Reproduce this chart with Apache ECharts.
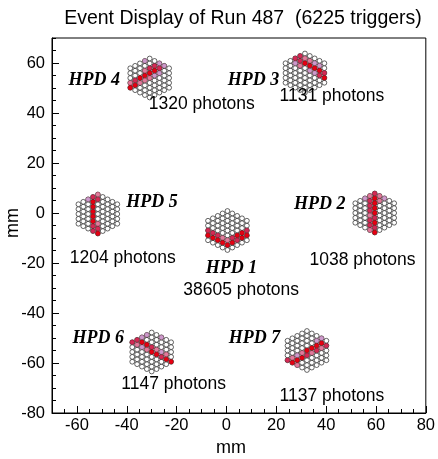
<!DOCTYPE html>
<html><head><meta charset="utf-8">
<script src="https://cdn.jsdelivr.net/npm/echarts@6/dist/echarts.min.js"></script>
<style>html,body{margin:0;padding:0;background:#fff}#c{width:438px;height:459px}</style>
</head><body><div id="c"></div>
<script>
const chartTitle = 'Event Display of Run 487  (6225 triggers)';
const xTitle = 'mm';
const yTitle = 'mm';
const hpdNames = ['HPD 1','HPD 2','HPD 3','HPD 4','HPD 5','HPD 6','HPD 7'];
const photons = [38605, 1038, 1131, 1320, 1204, 1147, 1137];
const centerX = [0.4, 59.5, 31.5, -30.8, -51.6, -30.0, 32.3];
const centerY = [-7.0, 0.0, 56.0, 54.0, -0.4, -55.6, -55.0];
const nameX = [2.0, 37.4, 10.9, -53.0, -29.9, -51.4, 11.3];
const nameY = [-22.0, 3.6, 53.2, 53.2, 4.4, -50.0, -50.0];
const countX = [5.9, 54.6, 42.3, -9.9, -41.6, -21.2, 42.3];
const countY = [-30.8, -18.8, 46.6, 43.4, -18.0, -68.4, -73.2];
const xTickValues = [-60, -40, -20, 0, 20, 40, 60, 80];
const yTickValues = [-80, -60, -40, -20, 0, 20, 40, 60];
const xMinorValues = [-70,-65,-60,-55,-50,-45,-40,-35,-30,-25,-20,-15,-10,-5,0,5,10,15,20,25,30,35,40,45,50,55,60,65,70,75,80];
const yMinorValues = [-80,-75,-70,-65,-60,-55,-50,-45,-40,-35,-30,-25,-20,-15,-10,-5,0,5,10,15,20,25,30,35,40,45,50,55,60,65,70];

// hit pixels: [column, row offset, intensity level 1..4]
const hits1 = [[-4,-1,4],[-4,0,3],[-3,-1.5,4],[-3,-0.5,3],[-2,-2,4],[-2,-1,3],[-1,-2.5,4],[-1,-1.5,2],[0,-3,4],[0,-2,2],[1,-2.5,4],[1,-1.5,3],[2,-2,3],[2,-1,4],[3,-1.5,4],[3,-0.5,4],[4,-1,4],[4,0,3]];
const hits2 = [[0,4,3],[0,3,4],[0,2,4],[0,1,4],[0,0,4],[0,-1,3],[0,-2,4],[0,-3,3],[0,-4,4],[-1,3.5,2],[-1,2.5,3],[-1,1.5,3],[-1,0.5,3],[-1,-0.5,2],[-1,-1.5,3],[-1,-2.5,3],[-1,-3.5,2],[1,3.5,2],[1,2.5,2],[-2,3,1],[2,3,1]];
const hits3 = [[-2,3,3],[-1,3.5,3],[-1,2.5,3],[-2,2,1],[0,3,2],[0,2,4],[1,2.5,2],[1,1.5,4],[2,1,4],[2,2,1],[3,0.5,4],[3,-0.5,3],[3,1.5,1],[4,0,3],[4,-1,4],[2,0,1],[1,0.5,1],[-1,1.5,2]];
const hits4 = [[-4,-2,4],[-4,-1,2],[-3,-1.5,4],[-3,-0.5,3],[-2,-1,2],[-2,0,4],[-1,0.5,4],[-1,-0.5,2],[-1,1.5,2],[0,1,4],[0,2,3],[0,0,2],[1,1.5,4],[1,2.5,3],[1,0.5,1],[2,2,3],[2,3,1],[2,1,1],[3,2.5,1],[-1,3.5,1]];
const hits5 = [[-1,3.5,3],[-1,2.5,4],[-1,1.5,4],[-1,0.5,4],[-1,-0.5,4],[-1,-1.5,4],[-1,-2.5,3],[-1,-3.5,3],[0,4,2],[0,3,3],[0,-2,2],[0,-3,3],[0,-4,4],[-2,3,1]];
const hits6 = [[-4,2,3],[-3,2.5,3],[-3,1.5,2],[-2,2,4],[-2,3,1],[-2,1,1],[-1,1.5,4],[-1,0.5,2],[0,1,3],[0,0,4],[1,0.5,2],[1,-0.5,4],[2,-1,3],[2,0,1],[3,-1.5,4],[3,-0.5,2],[4,-2,4],[2,3,1],[-1,3.5,1]];
const hits7 = [[-4,-2,3],[-3,-2.5,4],[-3,-1.5,2],[-2,-2,4],[-2,-1,1],[-1,-1.5,4],[-1,-0.5,2],[0,-1,3],[0,0,4],[1,-0.5,2],[1,0.5,4],[2,0,3],[2,1,4],[3,0.5,2],[3,1.5,4],[4,1,3],[3,2.5,1],[2,2,1],[-2,-3,2]];
const allHits = [hits1, hits2, hits3, hits4, hits5, hits6, hits7];

// geometry of the 61-pixel hexagonal anode (mm)
const PITCH_X = 1.95, PITCH_Y = 1.95;
const levelColors = ['#cc99cc', '#e27a9c', '#d42a55', '#e60012'];

const emptyPixels = [];
centerX.forEach((cx, i) => {
  const cy = centerY[i];
  for (let c = -4; c <= 4; c++) {
    const n = 9 - Math.abs(c);
    for (let k = 0; k < n; k++) {
      const r = k - (n - 1) / 2;
      emptyPixels.push([cx + c * PITCH_X, cy + r * PITCH_Y]);
    }
  }
});
const hitSeries = levelColors.map((col, li) => {
  const d = [];
  allHits.forEach((h, i) => h.forEach(p => {
    if (p[2] === li + 1) d.push([centerX[i] + p[0] * PITCH_X, centerY[i] + p[1] * PITCH_Y]);
  }));
  return {
    type: 'scatter', data: d, symbol: 'circle', symbolSize: 4.8,
    itemStyle: { color: col, borderColor: 'rgba(60,0,0,0.5)', borderWidth: 0.5, opacity: 1 },
    silent: true, z: 3 + li
  };
});

const chart = echarts.init(document.getElementById('c'), null, { renderer: 'canvas' });
chart.setOption({
  animation: false,
  backgroundColor: '#fff',
  title: { text: chartTitle, left: 238, top: 4, textAlign: 'center',
    textStyle: { fontFamily: 'Liberation Sans', fontWeight: 'normal', fontSize: 19.5, color: '#000' } },
  grid: { left: 52, right: 7, top: 38, bottom: 46, show: true, borderColor: '#000', borderWidth: 1, backgroundColor: '#fff' },
  xAxis: [
    { type: 'value', min: -70, max: 80, position: 'bottom',
      axisLine: { show: true, onZero: false, lineStyle: { color: '#000', width: 1 } },
      axisTick: { show: true, inside: true, length: 7, customValues: xTickValues, lineStyle: { color: '#000' } },
      axisLabel: { show: true, customValues: xTickValues, margin: 4, color: '#000', fontFamily: 'Liberation Sans', fontSize: 16.5 },
      splitLine: { show: false } },
    { type: 'value', min: -70, max: 80, position: 'bottom',
      axisLine: { show: false, onZero: false },
      axisTick: { show: true, inside: true, length: 4, customValues: xMinorValues, lineStyle: { color: '#000' } },
      axisLabel: { show: false }, splitLine: { show: false } }
  ],
  yAxis: [
    { type: 'value', min: -80, max: 70, position: 'left',
      axisLine: { show: true, onZero: false, lineStyle: { color: '#000', width: 1 } },
      axisTick: { show: true, inside: true, length: 7, customValues: yTickValues, lineStyle: { color: '#000' } },
      axisLabel: { show: true, customValues: yTickValues, margin: 7, color: '#000', fontFamily: 'Liberation Sans', fontSize: 16.5 },
      splitLine: { show: false } },
    { type: 'value', min: -80, max: 70, position: 'left',
      axisLine: { show: false, onZero: false },
      axisTick: { show: true, inside: true, length: 4, customValues: yMinorValues, lineStyle: { color: '#000' } },
      axisLabel: { show: false }, splitLine: { show: false } }
  ],
  graphic: [
    { type: 'text', left: 216, top: 439, style: { text: xTitle, font: '18px "Liberation Sans"', fill: '#000' } },
    { type: 'text', rotation: Math.PI / 2, x: 4, y: 238, style: { text: yTitle, font: '18px "Liberation Sans"', fill: '#000' } }
  ],
  series: [
    { type: 'scatter', data: emptyPixels, symbol: 'circle', symbolSize: 4.8, silent: true, z: 2,
      itemStyle: { color: '#fff', borderColor: '#000', borderWidth: 0.6, opacity: 1 } },
    ...hitSeries,
    { type: 'scatter', silent: true, z: 10, symbolSize: 0, itemStyle: { opacity: 1 },
      data: hpdNames.map((n, i) => ({ value: [nameX[i], nameY[i]], name: n })),
      label: { show: true, position: 'inside', formatter: '{b}', color: '#000',
        fontFamily: 'Liberation Serif', fontStyle: 'italic', fontWeight: 'bold', fontSize: 18 } },
    { type: 'scatter', silent: true, z: 10, symbolSize: 0, itemStyle: { opacity: 1 },
      data: photons.map((p, i) => ({ value: [countX[i], countY[i]], name: p + ' photons' })),
      label: { show: true, position: 'inside', formatter: '{b}', color: '#000',
        fontFamily: 'Liberation Sans', fontSize: 17.5 } }
  ]
});
</script></body></html>
